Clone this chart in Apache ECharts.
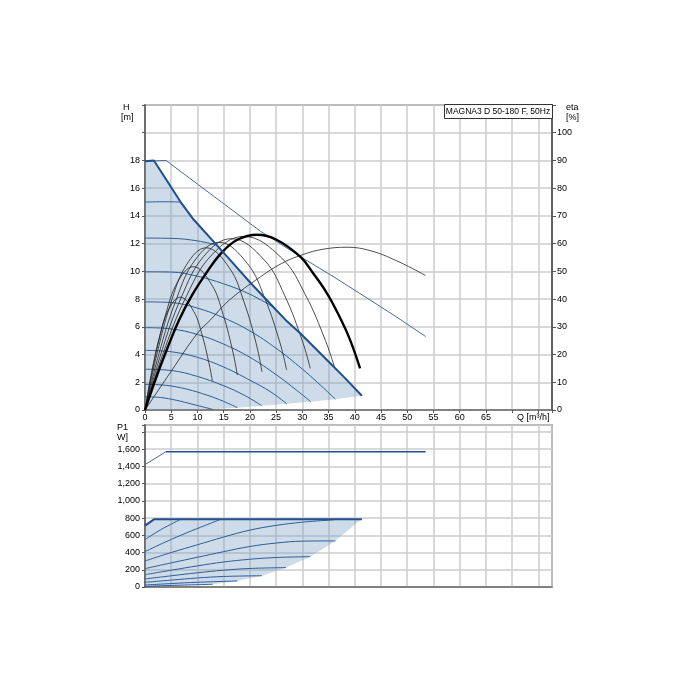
<!DOCTYPE html>
<html><head><meta charset="utf-8">
<script src="https://cdn.jsdelivr.net/npm/echarts@6/dist/echarts.min.js"></script>
<style>html,body{margin:0;padding:0;background:#fff}#c{width:700px;height:700px}</style>
</head><body><div id="c"></div>
<script>
// ---------- tick labels ----------
const qTickLabels = [0,5,10,15,20,25,30,35,40,45,50,55,60,65];
const hTickLabels = [0,2,4,6,8,10,12,14,16,18];
const etaTickLabels = [0,10,20,30,40,50,60,70,80,90,100];
const pTickLabels = [0,200,400,600,800,1000,1200,1400,1600];

// ---------- H chart ----------
const maxQ = [0,1.7,6.8,9.3,13.3,16,20.1,24.5,26.8,29.6,34.7,38,41.35];
const maxH = [17.95,18,15.0,13.72,12.05,10.92,9.18,7.41,6.5,5.54,3.61,2.35,1.03];
const twinQ = [0,4,13,22,29.6,36,42.9,48,53.5];
const twinH = [17.95,18,15.45,12.9,11.07,9.6,7.94,6.7,5.3];
const botQ = [0,12.85,17.6,22.3,27,31.6,36.3,41.35];
const botH = [0,0.05,0.17,0.3,0.45,0.6,0.78,1.03];

const s1Q=[0,3,6,9,12.85], s1H=[0.95,0.9,0.7,0.42,0.05];
const s2Q=[0,4,8,12,15,17.6], s2H=[1.85,1.78,1.5,1.05,0.62,0.17];
const s3Q=[0,5,10,15,19,22.3], s3H=[2.94,2.85,2.42,1.75,1.05,0.3];
const s4Q=[0,5,10,15,20,24,27], s4H=[4.3,4.2,3.8,3.1,2.15,1.3,0.45];
const s5Q=[0,5,10,15,20,25,29,31.6], s5H=[5.94,5.85,5.45,4.75,3.8,2.55,1.4,0.6];
const s6Q=[0,5,10,15,20,25,30,34,36.3], s6H=[7.8,7.75,7.35,6.65,5.7,4.45,2.95,1.6,0.78];
const s7Q=[0,5,10,15,20,24.5], s7H=[9.97,9.95,9.65,9.1,8.35,7.41];
const s8Q=[0,5,10,13.8], s8H=[12.4,12.38,12.2,11.88];
const s9Q=[0,4,6.8], s9H=[15.0,15.02,15.0];

// efficiency curves
const eAQ=[0,1.25,2.82,4.55,6.71,9.28,10.88,12.26,12.85], eA=[0,13.5,26.7,36.4,40.7,35.6,27.1,16.3,10.5];
const eBQ=[0,1.72,3.87,6.23,9.19,12.71,14.9,16.79,17.6], eB=[0,17.2,34.0,46.2,51.7,45.2,34.4,20.7,12.6];
const eCQ=[0,2.18,4.9,7.89,11.64,16.1,18.87,21.27,22.3], eC=[0,19.4,38.4,52.3,58.5,51.2,39,23.4,13.8];
const eDQ=[0,2.63,5.93,9.55,14.09,19.49,22.84,25.74,27], eD=[0,20.1,39.7,54.1,60.5,52.9,40.3,24.2,14.4];
const eEQ=[0,3.07,6.92,11.15,16.44,22.74,26.65,30.04,31.5], eE=[0,20.5,40.6,55.3,61.8,54.1,41.2,24.7,15];
const eFQ=[0,3.52,7.93,12.77,18.84,26.06,30.54,34.42,36.1], eF=[0,20.8,41.2,56,62.6,54.8,41.7,25,15.6];
const eMaxQ=[0,2,4,6.5,9,11.9,14.5,17.6,21.4,25,29.6,32,34.7,37,39.1,41], eMax=[0,11,21,32.5,41.5,50,56.5,61.4,63.2,61.5,55.3,49.5,42.1,34,25.3,15];
const eTwinQ=[0,5,10,12.5,16,22,26,30,34,38.5,42.9,48,53.5], eTwin=[0,14,27.7,32.5,39.5,48,52.8,56,58,58.7,57.5,53.8,48.5];

// ---------- P1 chart ----------
const pMaxQ=[0,1.7,41.35], pMax=[713,785,785];
const pTwinAQ=[0,4], pTwinA=[1420,1570];
const pTwinBQ=[4,53.5], pTwinB=[1570,1570];
const pBotQ=[0,12.9,17.6,22.3,26.9,31.5,36.3,40.7,41.35];
const pBot=[0,31,70,131,225,352,535,760,785];
const p9Q=[0,3,6.8], p9=[550,665,785];
const p8Q=[0,4,8,11.5,14.4], p8=[411,525,630,715,785];
const p7Q=[0,5,10,15,20,25,30,36], p7=[302,400,490,580,660,715,752,780];
const p6Q=[0,5,10,15,20,25,30,36.3], p6=[213,280,345,410,470,510,532,535];
const p5Q=[0,5,10,15,20,25,31.5], p5=[143,195,245,290,322,342,352];
const p4Q=[0,5,10,15,20,26.9], p4=[93,130,165,195,215,225];
const p3Q=[0,5,10,15,22.3], p3=[54,80,105,122,131];
const p2Q=[0,5,10,17.6], p2=[23,40,55,70];
const p1Q=[0,5,12.9], p1=[8,18,31];

// ---------- build ----------
const FONT = 'Liberation Sans, Arial, sans-serif';
const BLUE = '#1f4f8f', BLUE_T = '#2c5d9a', TWIN = '#4d6c99', BLK = '#222';
const GRID_C = '#cdcdcd', AXIS_C = '#6e6e6e';
const pairs = (q, v) => q.map((x, i) => [x, v[i]]);
function ln(q, v, xi, yi, color, width, z, smooth) {
  return {type:'line', xAxisIndex:xi, yAxisIndex:yi, data:pairs(q, v), symbol:'none',
    smooth: smooth === undefined ? 0.4 : smooth, silent:true, z:z, clip:true,
    lineStyle:{color:color, width:width}};
}
function polySeries(xi, yi, pts, fill) {
  return {type:'custom', xAxisIndex:xi, yAxisIndex:yi, data:[[0,0]], silent:true, z:1, clip:true,
    renderItem:(params, api) => ({type:'polygon', shape:{points: pts.map(p => api.coord(p))},
      style:{fill: fill}})};
}
const regionH = [[0,0]].concat(pairs(botQ, botH).slice(1), pairs(maxQ, maxH).reverse());
const regionP = pairs(pBotQ, pBot).concat(pairs(pMaxQ, pMax).reverse().slice(1));
const FILL = 'rgba(120,155,192,0.36)';

const xLab = v => qTickLabels.indexOf(v) >= 0 ? String(v) : '';
const mkX = (gi, showLab) => ({type:'value', gridIndex:gi, min:0, max:77.6, interval:5,
  axisLine:{show:true, onZero:false, lineStyle:{color:AXIS_C, width:1.5}},
  axisTick:{show:showLab, length:3, lineStyle:{color:'#555'}},
  axisLabel:{show:showLab, fontSize:9, color:'#000', fontFamily:FONT, margin:3, formatter:xLab},
  splitLine:{show:true, lineStyle:{color:GRID_C, width:1.5}}});

const option = {
  animation:false,
  backgroundColor:'#fff',
  grid:[
    {left:145, top:105, width:407, height:305, show:true, borderColor:AXIS_C, borderWidth:1.5, backgroundColor:'transparent'},
    {left:145, top:425, width:407, height:162, show:true, borderColor:AXIS_C, borderWidth:1.5, backgroundColor:'transparent'}
  ],
  xAxis:[mkX(0, true), mkX(1, false)],
  yAxis:[
    {type:'value', gridIndex:0, min:0, max:22, interval:2,
     axisLine:{show:true, lineStyle:{color:AXIS_C, width:2}},
     axisTick:{show:true, length:3, lineStyle:{color:'#555'}},
     axisLabel:{fontSize:9, color:'#000', fontFamily:FONT, margin:5,
       formatter:v => hTickLabels.indexOf(v) >= 0 ? String(v) : ''},
     splitLine:{show:true, lineStyle:{color:GRID_C, width:1.5}}},
    {type:'value', gridIndex:0, position:'right', min:0, max:110, interval:10,
     axisLine:{show:true, lineStyle:{color:'#444', width:1.5}},
     axisTick:{show:true, length:4, lineStyle:{color:'#555'}},
     axisLabel:{fontSize:9, color:'#000', fontFamily:FONT, margin:5,
       formatter:v => etaTickLabels.indexOf(v) >= 0 ? String(v) : ''},
     splitLine:{show:false}},
    {type:'value', gridIndex:1, min:0, max:1880, interval:200,
     axisLine:{show:true, lineStyle:{color:AXIS_C, width:2}},
     axisTick:{show:true, length:3, lineStyle:{color:'#555'}},
     axisLabel:{fontSize:9, color:'#000', fontFamily:FONT, margin:5,
       formatter:v => pTickLabels.indexOf(v) >= 0 ? v.toLocaleString('en-US') : ''},
     splitLine:{show:true, lineStyle:{color:GRID_C, width:1.5}}}
  ],
  graphic:[
    {type:'text', left:123, top:103, style:{text:'H', font:'9px '+FONT, fill:'#000'}},
    {type:'text', left:121, top:113, style:{text:'[m]', font:'9px '+FONT, fill:'#000'}},
    {type:'text', left:566, top:103, style:{text:'eta', font:'9px '+FONT, fill:'#000'}},
    {type:'text', left:566, top:113, style:{text:'[%]', font:'9px '+FONT, fill:'#000'}},
    {type:'text', left:117, top:423, style:{text:'P1', font:'9px '+FONT, fill:'#000'}},
    {type:'text', left:117, top:433, style:{text:'W]', font:'9px '+FONT, fill:'#000'}},
    {type:'text', left:517, top:413, style:{text:'Q [m³/h]', font:'9px '+FONT, fill:'#000'}},
    {type:'rect', shape:{x:444.5, y:104.5, width:108, height:14}, style:{fill:'#fff', stroke:'#333', lineWidth:1}, z:50},
    {type:'text', x:498, y:112, style:{text:'MAGNA3 D 50-180 F, 50Hz', font:'8.5px '+FONT, fill:'#000', textAlign:'center', textVerticalAlign:'middle'}, z:51}
  ],
  series:[
    polySeries(0, 0, regionH, FILL),
    polySeries(1, 2, regionP, FILL),
    // H speed curves
    ln(s1Q, s1H, 0, 0, BLUE_T, 1, 3), ln(s2Q, s2H, 0, 0, BLUE_T, 1, 3), ln(s3Q, s3H, 0, 0, BLUE_T, 1, 3),
    ln(s4Q, s4H, 0, 0, BLUE_T, 1, 3), ln(s5Q, s5H, 0, 0, BLUE_T, 1, 3), ln(s6Q, s6H, 0, 0, BLUE_T, 1, 3),
    ln(s7Q, s7H, 0, 0, BLUE_T, 1, 3), ln(s8Q, s8H, 0, 0, BLUE_T, 1, 3), ln(s9Q, s9H, 0, 0, BLUE_T, 1, 3),
    ln(twinQ, twinH, 0, 0, TWIN, 1, 3, false),
    // efficiency curves
    ln(eAQ, eA, 0, 1, BLK, 0.8, 4), ln(eBQ, eB, 0, 1, BLK, 0.8, 4), ln(eCQ, eC, 0, 1, BLK, 0.8, 4),
    ln(eDQ, eD, 0, 1, BLK, 0.8, 4), ln(eEQ, eE, 0, 1, BLK, 0.8, 4), ln(eFQ, eF, 0, 1, BLK, 0.8, 4),
    ln(eTwinQ, eTwin, 0, 1, BLK, 0.8, 4),
    ln(eMaxQ, eMax, 0, 1, '#000', 2.4, 5),
    ln(maxQ, maxH, 0, 0, BLUE, 2, 6, false),
    // P1 curves
    ln(p1Q, p1, 1, 2, BLUE_T, 1, 3), ln(p2Q, p2, 1, 2, BLUE_T, 1, 3), ln(p3Q, p3, 1, 2, BLUE_T, 1, 3),
    ln(p4Q, p4, 1, 2, BLUE_T, 1, 3), ln(p5Q, p5, 1, 2, BLUE_T, 1, 3), ln(p6Q, p6, 1, 2, BLUE_T, 1, 3),
    ln(p7Q, p7, 1, 2, BLUE_T, 1, 3), ln(p8Q, p8, 1, 2, BLUE_T, 1, 3), ln(p9Q, p9, 1, 2, BLUE_T, 1, 3),
    ln(pTwinAQ, pTwinA, 1, 2, TWIN, 1, 3, false),
    ln(pTwinBQ, pTwinB, 1, 2, BLUE, 1.5, 3, false),
    ln(pMaxQ, pMax, 1, 2, BLUE, 2, 6, false)
  ]
};
const chart = echarts.init(document.getElementById('c'), null, {renderer:'canvas'});
chart.setOption(option);
</script></body></html>
